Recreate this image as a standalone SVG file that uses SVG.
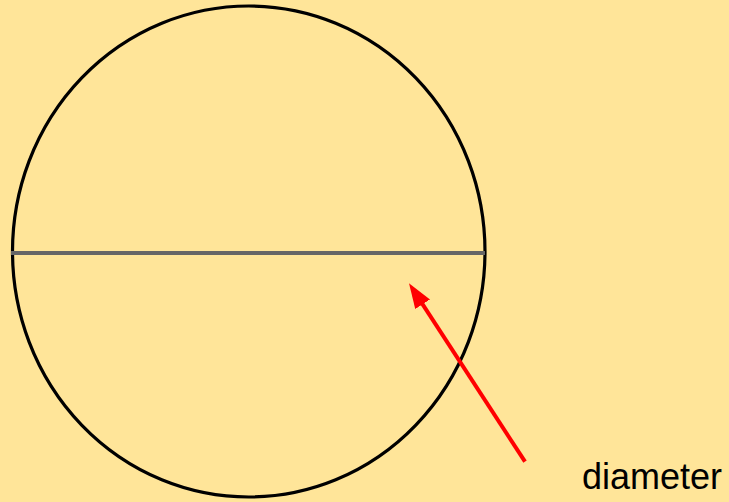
<svg xmlns="http://www.w3.org/2000/svg" width="729" height="502" viewBox="0 0 729 502">
  <style>
    .label { font-family: "Liberation Sans", Arial, sans-serif; font-size: 36px; fill: #000000; }
  </style>
  <defs>
    <marker id="arrowhead" markerUnits="userSpaceOnUse" markerWidth="26" markerHeight="20" viewBox="0 -10 26 20" refX="5" refY="0" orient="auto">
      <path d="M0,-8.8 L25,0 L0,8.8 z" fill="#ff0000"/>
    </marker>
  </defs>
  <rect x="0" y="0" width="729" height="502" fill="#ffe599"/>
  <g id="circle">
    <ellipse cx="248.75" cy="251.5" rx="236.25" ry="245.5" fill="none" stroke="#000000" stroke-width="3.2"/>
  </g>
  <g id="diameter-line">
    <line x1="11" y1="253" x2="485" y2="253" stroke="#666666" stroke-width="4"/>
  </g>
  <g id="label">
    <text class="label" x="582" y="489">diameter</text>
  </g>
  <g id="connectors">
    <line x1="525" y1="461.7" x2="419.9" y2="300.1" stroke="#ff0000" stroke-width="4" marker-end="url(#arrowhead)"/>
  </g>
</svg>
